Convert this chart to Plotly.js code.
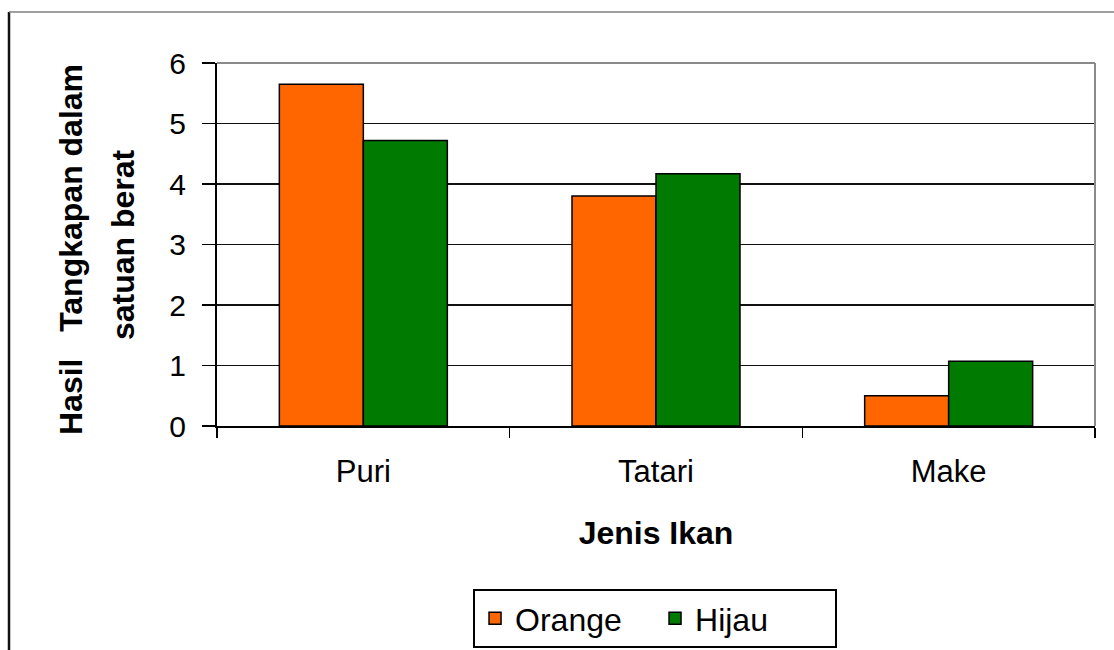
<!DOCTYPE html>
<html>
<head>
<meta charset="utf-8">
<script src="https://cdn.plot.ly/plotly-3.0.1.min.js"></script>
<style>
  html, body { margin: 0; padding: 0; background: #ffffff; }
  #chart { width: 1114px; height: 650px; }
</style>
</head>
<body>
<div id="chart"></div>
<script>
// ---- data ----
const categories = ["Puri", "Tatari", "Make"];
const orangeValues = [5.65, 3.8, 0.5];
const hijauValues = [4.72, 4.17, 1.07];
const seriesNames = ["Orange", "Hijau"];
const yTickValues = [0, 1, 2, 3, 4, 5, 6];
const xTitle = "Jenis Ikan";
const yTitleLine1 = "Hasil\u00a0\u00a0\u00a0Tangkapan dalam";
const yTitleLine2 = "satuan berat";

const FONT = "'Liberation Sans', Arial, Helvetica, sans-serif";

const traces = [
  {
    type: "bar",
    name: seriesNames[0],
    x: categories,
    y: orangeValues,
    marker: { color: "#FF6600", line: { color: "#000000", width: 1.5 } }
  },
  {
    type: "bar",
    name: seriesNames[1],
    x: categories,
    y: hijauValues,
    marker: { color: "#007A00", line: { color: "#000000", width: 1.5 } }
  }
];

const layout = {
  width: 1114,
  height: 650,
  paper_bgcolor: "#ffffff",
  plot_bgcolor: "#ffffff",
  margin: { l: 217, r: 19, t: 63, b: 224, autoexpand: false },
  barmode: "group",
  bargap: 0.426,
  bargroupgap: 0,
  showlegend: true,
  font: { family: FONT, color: "#000000", size: 26 },
  xaxis: {
    type: "category",
    automargin: false,
    showline: true,
    linecolor: "#000000",
    linewidth: 2,
    ticks: "outside",
    tickson: "boundaries",
    ticklen: 10,
    tickwidth: 1.5,
    tickcolor: "#000000",
    ticklabelstandoff: 17,
    tickfont: { family: FONT, size: 31, color: "#000000" },
    showgrid: false,
    zeroline: false,
    fixedrange: true,
    title: {
      text: "<b>" + xTitle + "</b>",
      font: { family: FONT, size: 32, color: "#000000" },
      standoff: 33
    }
  },
  yaxis: {
    range: [0, 6],
    automargin: false,
    tickvals: yTickValues,
    ticktext: yTickValues.map(String),
    showline: true,
    linecolor: "#000000",
    linewidth: 2,
    ticks: "outside",
    ticklen: 13,
    tickwidth: 1.5,
    tickcolor: "#000000",
    ticklabelstandoff: 10,
    tickfont: { family: FONT, size: 30, color: "#000000" },
    showgrid: true,
    gridcolor: "#111111",
    gridwidth: 1.5,
    zeroline: false,
    fixedrange: true
  },
  legend: {
    orientation: "h",
    x: 0.4989,
    xanchor: "center",
    y: -0.449,
    yanchor: "top",
    bordercolor: "#000000",
    borderwidth: 2,
    bgcolor: "#ffffff",
    font: { family: FONT, size: 32, color: "#000000" },
    itemwidth: 30,
    entrywidth: 135,
    entrywidthmode: "pixels",
    traceorder: "normal"
  },
  annotations: [
    {
      xref: "paper", yref: "paper",
      x: 0, y: 0.4848, xshift: -146,
      xanchor: "center", yanchor: "middle",
      textangle: -90,
      showarrow: false,
      text: "<b>" + yTitleLine1 + "</b>",
      font: { family: FONT, size: 32, color: "#000000" }
    },
    {
      xref: "paper", yref: "paper",
      x: 0, y: 0.4986, xshift: -94,
      xanchor: "center", yanchor: "middle",
      textangle: -90,
      showarrow: false,
      text: "<b>" + yTitleLine2 + "</b>",
      font: { family: FONT, size: 32, color: "#000000" }
    }
  ],
  shapes: [
    // outer chart frame: left (dark) and top (gray)
    { type: "line", xref: "paper", yref: "paper", x0: -0.2369, x1: -0.2369, y0: 1.1405, y1: -0.62,
      line: { color: "#111111", width: 2.5 } },
    { type: "line", xref: "paper", yref: "paper", x0: -0.2369, x1: 1.03, y0: 1.1405, y1: 1.1405,
      line: { color: "#808080", width: 1.5 } },
    // plot area top and right border (gray)
    { type: "line", xref: "paper", yref: "paper", x0: 0, x1: 1, y0: 1, y1: 1, layer: "above",
      line: { color: "#8a8a8a", width: 2 } },
    { type: "line", xref: "paper", yref: "paper", x0: 1, x1: 1, y0: 0, y1: 1, layer: "above",
      line: { color: "#8a8a8a", width: 2 } }
  ]
};

Plotly.newPlot("chart", traces, layout, { displayModeBar: false, staticPlot: true });
</script>
</body>
</html>
